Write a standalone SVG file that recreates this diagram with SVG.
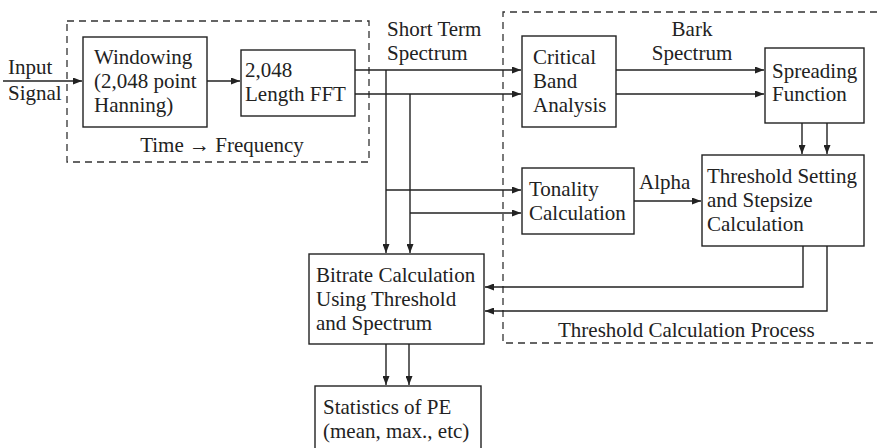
<svg xmlns="http://www.w3.org/2000/svg" width="879" height="448" viewBox="0 0 879 448">
<defs>
<marker id="ah" viewBox="0 0 9 7" refX="9" refY="3.5" markerWidth="9" markerHeight="7" markerUnits="userSpaceOnUse" orient="auto">
<path d="M0,0 L9,3.5 L0,7 z" fill="#222"/>
</marker>
<style>
.box{fill:#fff;stroke:#222;stroke-width:1.4}
.dash{fill:none;stroke:#333;stroke-width:1.3;stroke-dasharray:7 5}
.c{fill:none;stroke:#222;stroke-width:1.4}
.a{marker-end:url(#ah)}
text{font-family:"Liberation Serif","Times New Roman",serif;font-size:21px;fill:#222}
</style>
</defs>
<rect width="879" height="448" fill="#fff"/>
<g id="group-time-frequency">
<rect class="dash" x="67" y="21" width="302" height="141"/>
<text x="222" y="152" text-anchor="middle">Time → Frequency</text>
</g>
<g id="group-threshold-process">
<path class="dash" d="M877,12 H503 V343 H877"/>
<text x="558" y="337">Threshold Calculation Process</text>
</g>
<g id="connectors">
<path class="c a" d="M3,81 H82"/>
<path class="c a" d="M207,81 H240"/>
<path class="c a" d="M355,70 H521"/>
<path class="c a" d="M355,94 H521"/>
<path class="c a" d="M386,70 V253"/>
<path class="c a" d="M410,94 V253"/>
<path class="c a" d="M386,190 H521"/>
<path class="c a" d="M410,213 H521"/>
<path class="c a" d="M616,70 H764"/>
<path class="c a" d="M616,94 H764"/>
<path class="c a" d="M802,123 V154"/>
<path class="c a" d="M827,123 V154"/>
<path class="c a" d="M634,201 H701"/>
<path class="c a" d="M803,246 V287 H485"/>
<path class="c a" d="M827,246 V311 H485"/>
<path class="c a" d="M386,344 V385"/>
<path class="c a" d="M409,344 V385"/>
<text x="8" y="74">Input</text>
<text x="8" y="100">Signal</text>
<text x="387" y="36">Short Term</text>
<text x="387" y="60">Spectrum</text>
<text x="692" y="36" text-anchor="middle">Bark</text>
<text x="692" y="60" text-anchor="middle">Spectrum</text>
<text x="639" y="189">Alpha</text>
</g>
<g id="node-windowing">
<rect class="box" x="83" y="37" width="124" height="90"/>
<text x="94" y="64">Windowing</text>
<text x="94" y="88">(2,048 point</text>
<text x="94" y="112">Hanning)</text>
</g>
<g id="node-fft">
<rect class="box" x="241" y="50" width="114" height="66"/>
<text x="245" y="77">2,048</text>
<text x="245" y="101">Length FFT</text>
</g>
<g id="node-critical-band">
<rect class="box" x="522" y="36" width="94" height="91"/>
<text x="533" y="64">Critical</text>
<text x="533" y="88">Band</text>
<text x="533" y="112">Analysis</text>
</g>
<g id="node-spreading">
<rect class="box" x="765" y="48" width="99" height="75"/>
<text x="772" y="78">Spreading</text>
<text x="772" y="101">Function</text>
</g>
<g id="node-tonality">
<rect class="box" x="522" y="168" width="112" height="66"/>
<text x="529" y="196">Tonality</text>
<text x="529" y="220">Calculation</text>
</g>
<g id="node-threshold">
<rect class="box" x="702" y="155" width="162" height="91"/>
<text x="707" y="183">Threshold Setting</text>
<text x="707" y="207">and Stepsize</text>
<text x="707" y="231">Calculation</text>
</g>
<g id="node-bitrate">
<rect class="box" x="309" y="254" width="175" height="90"/>
<text x="316" y="282">Bitrate Calculation</text>
<text x="316" y="306">Using Threshold</text>
<text x="316" y="330">and Spectrum</text>
</g>
<g id="node-statistics">
<rect class="box" x="315" y="386" width="166" height="70"/>
<text x="323" y="414">Statistics of PE</text>
<text x="323" y="438">(mean, max., etc)</text>
</g>
</svg>
